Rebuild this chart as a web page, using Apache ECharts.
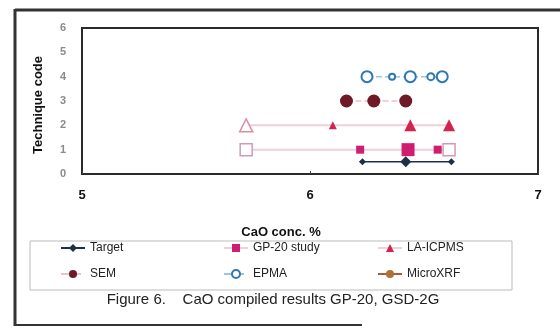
<html>
<head>
    <meta charset="utf-8"/>
    <script src="https://cdn.jsdelivr.net/npm/echarts@6/dist/echarts.min.js"></script>
    <style>
        body { margin: 0; background: #fff; }
        #chart { width: 560px; height: 331px; }
    </style>
</head>
<body>
<div id="chart"></div>
<script type="text/javascript">

// technique codes (y) and CaO values (x)
var targetCode = 0.5;
var targetX = [6.23, 6.42, 6.62];
var gp20Code = 1;
var gp20X = [5.72, 6.22, 6.43, 6.56, 6.61];
var laCode = 2;
var laX = [5.72, 6.10, 6.44, 6.61];
var semCode = 3;
var semX = [6.16, 6.28, 6.42];
var epmaCode = 4;
var epmaX = [6.25, 6.36, 6.44, 6.53, 6.58];
var microXrfX = [];

var xTicks = [5, 6, 7];
var yTicks = [0, 1, 2, 3, 4, 5, 6];

// marker look per point (open = hollow marker)
var targetSizes = [7, 11, 7];
var gp20Sizes = [12, 8, 13, 8, 12];
var gp20Open = [true, false, false, false, true];
var laSizes = [13, 8, 12, 12];
var laOpen = [true, false, false, false];
var semSizes = [13, 13, 13];
var epmaSizes = [11, 6, 11, 7, 11];

function pts(xs, code, sizes, open, color, openColor) {
    return xs.map(function (x, i) {
        var p = { value: [x, code], symbolSize: sizes[i] };
        if (open && open[i]) {
            p.itemStyle = { color: '#fff', borderColor: openColor || color, borderWidth: 1.5 };
        }
        return p;
    });
}

var chart = echarts.init(document.getElementById('chart'));

var legendText = { fontFamily: 'Liberation Sans', fontSize: 12, color: '#222' };
var legendBase = { orient: 'vertical', top: 237, itemGap: 14, itemWidth: 24, itemHeight: 10, textStyle: legendText };

option = {
    animation: false,
    grid: {
        left: 82, right: 22, top: 28, bottom: 157,
        show: true, borderColor: '#2a2a2a', borderWidth: 2
    },
    xAxis: {
        type: 'value', min: xTicks[0], max: xTicks[xTicks.length - 1], interval: 1,
        axisLine: { lineStyle: { color: '#2a2a2a', width: 2 } },
        axisTick: { inside: true, length: 3, lineStyle: { color: '#444' } },
        splitLine: { show: false },
        axisLabel: { color: '#111', fontWeight: 'bold', fontSize: 13, fontFamily: 'Liberation Sans', margin: 15 }
    },
    yAxis: {
        type: 'value', min: yTicks[0], max: yTicks[yTicks.length - 1], interval: 1,
        axisLine: { show: false },
        axisTick: { show: false },
        splitLine: { show: false },
        axisLabel: { color: '#8a8a8a', fontWeight: 'bold', fontSize: 11, fontFamily: 'Liberation Sans', margin: 16 }
    },
    legend: [
        echarts.util.extend({ left: 55, data: ['Target', 'SEM'] }, legendBase),
        echarts.util.extend({ left: 218, data: ['GP-20 study', 'EPMA'] }, legendBase),
        echarts.util.extend({ left: 372, data: ['LA-ICPMS', 'MicroXRF'] }, legendBase)
    ],
    graphic: [
        // outer frame of the scanned figure
        { type: 'line', shape: { x1: 15, y1: 10, x2: 560, y2: 10 }, style: { stroke: '#333', lineWidth: 3 } },
        { type: 'line', shape: { x1: 15, y1: 9, x2: 15, y2: 326 }, style: { stroke: '#333', lineWidth: 3 } },
        { type: 'line', shape: { x1: 14, y1: 325, x2: 362, y2: 325 }, style: { stroke: '#333', lineWidth: 2 } },
        // legend box
        { type: 'rect', shape: { x: 30, y: 241, width: 482, height: 49 },
          style: { fill: 'none', stroke: '#bbb', lineWidth: 1 } },
        { type: 'text', x: 281, y: 232,
          style: { text: 'CaO conc. %', font: 'bold 13px "Liberation Sans"', fill: '#111',
                   textAlign: 'center', textVerticalAlign: 'middle' } },
        { type: 'text', x: 38, y: 105, rotation: Math.PI / 2,
          style: { text: 'Technique code', font: 'bold 13px "Liberation Sans"', fill: '#111',
                   textAlign: 'center', textVerticalAlign: 'middle' } },
        { type: 'text', x: 273, y: 300,
          style: { text: 'Figure 6.    CaO compiled results GP-20, GSD-2G', font: '15px "Liberation Sans"', fill: '#222',
                   textAlign: 'center', textVerticalAlign: 'middle' } }
    ],
    series: [
        {
            name: 'Target', type: 'line', symbol: 'diamond',
            itemStyle: { color: '#1e3048' },
            lineStyle: { color: '#1e3048', width: 1.5 },
            data: pts(targetX, targetCode, targetSizes)
        },
        {
            name: 'GP-20 study', type: 'line', symbol: 'rect',
            itemStyle: { color: '#cf1d72' },
            lineStyle: { color: '#f0cedc', width: 2 },
            data: pts(gp20X, gp20Code, gp20Sizes, gp20Open, '#cf1d72', '#d49ab4')
        },
        {
            name: 'LA-ICPMS', type: 'line', symbol: 'triangle',
            itemStyle: { color: '#d3224f' },
            lineStyle: { color: '#f1d0d8', width: 2 },
            data: pts(laX, laCode, laSizes, laOpen, '#d3224f', '#d890a4')
        },
        {
            name: 'SEM', type: 'line', symbol: 'circle',
            itemStyle: { color: '#6e1a26' },
            lineStyle: { color: '#e6c4c8', width: 1.5, type: 'dashed' },
            data: pts(semX, semCode, semSizes)
        },
        {
            name: 'EPMA', type: 'line', symbol: 'circle',
            itemStyle: { color: '#fff', borderColor: '#2f79b3', borderWidth: 2 },
            lineStyle: { color: '#9cc4e0', width: 1.5, type: 'dashed' },
            data: pts(epmaX, epmaCode, epmaSizes)
        },
        {
            name: 'MicroXRF', type: 'line', symbol: 'circle', symbolSize: 4,
            itemStyle: { color: '#b0703c' },
            lineStyle: { color: '#a0603a', width: 2 },
            data: microXrfX
        }
    ]
};

chart.setOption(option);

</script>
</body>
</html>
